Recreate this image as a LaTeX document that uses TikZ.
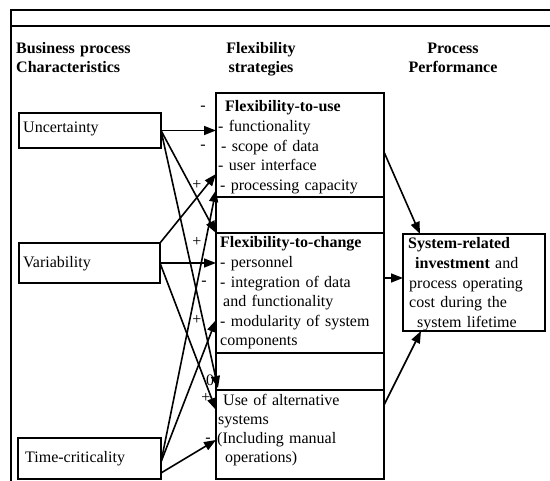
\documentclass[tikz,border=0pt]{standalone}
\usepackage{fontspec}
\setmainfont{Liberation Serif}
\usetikzlibrary{arrows.meta}
\begin{document}
\begin{tikzpicture}[x=1pt,y=-1pt,
  box/.style={draw, line width=1.6pt, inner sep=0pt, outer sep=0pt, anchor=north west},
  boxline/.style={line width=1.6pt},
  frame/.style={line width=1.3pt},
  txt/.style={anchor=base west, inner sep=0pt, align=left, text width=175pt, font=\fontsize{16}{19.6}\selectfont},
  hdr/.style={anchor=base, inner sep=0pt, align=center, text width=120pt, font=\fontsize{16}{19}\selectfont\bfseries},
  lab/.style={inner sep=0pt, font=\fontsize{16}{19}\selectfont},
  conn/.style={line width=1.6pt, -{Triangle[length=12pt,width=9pt]}},
]
\useasboundingbox (0,0) rectangle (550,481);

% frame
\draw[frame] (550,10) -- (11,10) -- (11,481);
\draw[frame] (11,26) -- (550,26);

% headers
\node[txt, font=\fontsize{16}{19}\selectfont\bfseries] (h1) at (16,54) {Business process\\Characteristics};
\node[hdr] (h2) at (261,54) {Flexibility\\strategies};
\node[hdr] (h3) at (453,54) {Process\\Performance};

% left boxes
\node[box, minimum width=142pt, minimum height=35pt] (unc) at (19,113) {};
\node[txt] (unct) at (23,133) {Uncertainty};
\node[box, minimum width=141pt, minimum height=40pt] (var) at (19,243) {};
\node[txt] (vart) at (23,268) {Variability};
\node[box, minimum width=143pt, minimum height=41pt] (tim) at (18,438) {};
\node[txt] (timt) at (25,463) {Time-criticality};

% middle column
\node[box, minimum width=168pt, minimum height=104pt] (use) at (216,93) {};
\node[box, minimum width=168pt, minimum height=120pt] (chg) at (216,233) {};
\node[box, minimum width=168pt, minimum height=89pt] (alt) at (216,390) {};
\draw[boxline] (use.south west) -- (chg.north west);
\draw[boxline] (use.south east) -- (chg.north east);
\draw[boxline] (chg.south west) -- (alt.north west);
\draw[boxline] (chg.south east) -- (alt.north east);

\node[txt] (uset) at (218,112) {\hspace*{7pt}\textbf{Flexibility-to-use}\\- functionality\\\hspace*{3pt}- scope of data\\- user interface\\\hspace*{2pt}- processing capacity};
\node[txt] (chgt) at (220,248) {\textbf{Flexibility-to-change}\\- personnel\\- integration of data\\\hspace*{3pt}and functionality\\- modularity of system\\components};
\node[txt, font=\fontsize{16}{18.7}\selectfont] (altt) at (217,406) {\hspace*{6pt}Use of alternative\\\hspace*{1pt}systems\\(Including manual\\\hspace*{8pt}operations)};

% right box
\node[box, minimum width=142pt, minimum height=97pt] (perf) at (403,234) {};
\node[txt] (perft) at (408,249) {\textbf{System-related}\\\hspace*{7pt}\textbf{investment} and\\\hspace*{1pt}process operating\\\hspace*{1pt}cost during the\\\hspace*{9pt}system lifetime};

% coordinates
\coordinate (u3e) at (218,388);
\coordinate (v1e) at (216,174);
\coordinate (v3e) at (216,410);
\coordinate (t1e) at (216,190);
\coordinate (t2e) at (216,320);
\coordinate (t3e) at (216,440);
\coordinate (t3s) at (161,473);
\coordinate (t12s) at (161,462);
\coordinate (r1s) at (384,152);
\coordinate (r1e) at (420,234);
\coordinate (r2s) at (384,278);
\coordinate (r2e) at (403,278);
\coordinate (r3s) at (384,405);
\coordinate (r3e) at (421,331);

% connectors from characteristics
\draw[conn] (unc.east) -- (use.west |- unc.east);
\draw[conn] (unc.east) -- (chg.north west);
\draw[conn] (unc.east) -- (u3e);
\draw[conn] (var.north east) -- (v1e);
\draw[conn] (var.east) -- (chg.west |- var.east);
\draw[conn] (var.east) -- (v3e);
\draw[conn] (t12s) -- (t1e);
\draw[conn] (t12s) -- (t2e);
\draw[conn] (t3s) -- (t3e);

% connectors to performance
\draw[conn] (r1s) -- (r1e);
\draw[conn] (r2s) -- (r2e);
\draw[conn] (r3s) -- (r3e);

% labels
\node[lab] (l1) at (203,108) {-};
\node[lab] (l2) at (203,147) {-};
\node[lab] (l3) at (197,185) {+};
\node[lab] (l4) at (197,242) {+};
\node[lab] (l5) at (204,283) {-};
\node[lab] (l6) at (197,320) {+};
\node[lab] (l7) at (210,380) {0};
\node[lab] (l8) at (206,398) {+};
\node[lab] (l9) at (208,440) {-};
\end{tikzpicture}
\end{document}
